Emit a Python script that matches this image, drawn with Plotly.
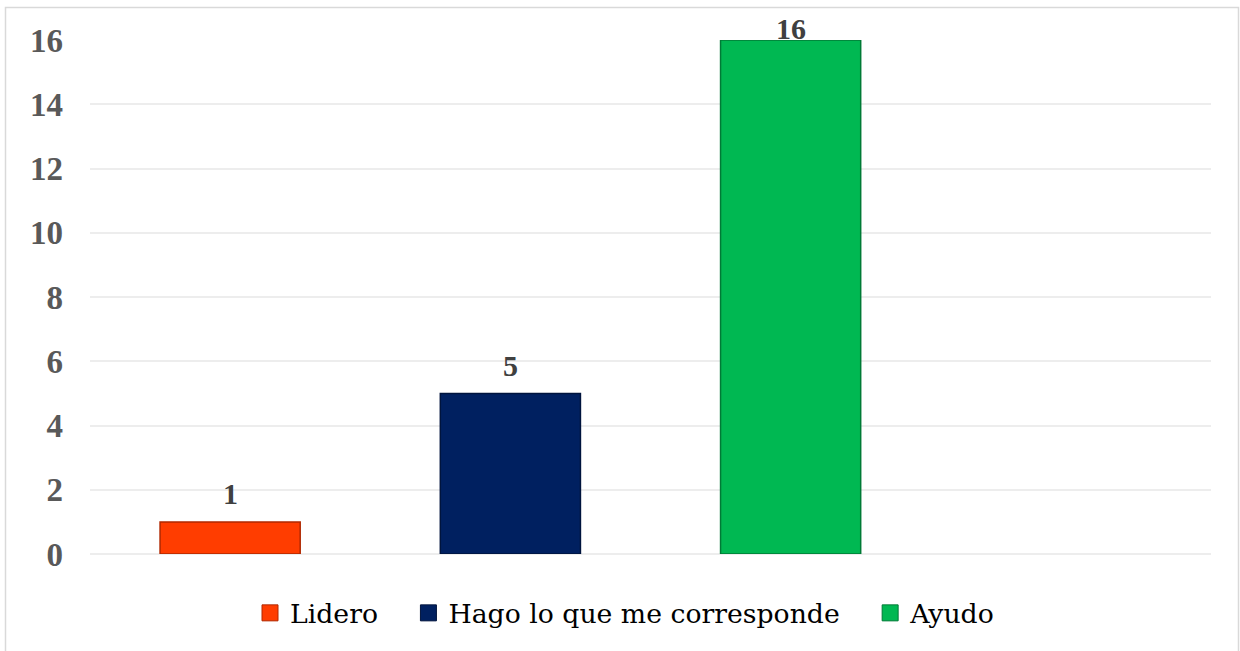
import plotly.graph_objects as go

categories = ["Lidero", "Hago lo que me corresponde", "Ayudo"]
values = [1, 5, 16]
colors = ["#FF3D00", "#002060", "#00B852"]
edge_colors = ["#B02800", "#00143D", "#007A36"]
positions = [0, 1, 2]
y_ticks = [0, 2, 4, 6, 8, 10, 12, 14, 16]

W, H = 1240, 651
ML, MR, MT, MB = 90, 29, 40, 97
YMAX = 16
pw = W - ML - MR
ph = H - MT - MB

fig = go.Figure()
for cat, v, c, ec, p in zip(categories, values, colors, edge_colors, positions):
    fig.add_trace(go.Bar(
        x=[p], y=[v], name=cat, width=0.5, showlegend=False,
        marker=dict(color=c, line=dict(color=ec, width=1.5)),
        hoverinfo="skip",
    ))
# legend entries with larger square symbols
PAD = "\u00a0\u00a0\u00a0"
for cat, c, ec in zip(categories, colors, edge_colors):
    fig.add_trace(go.Scatter(
        x=[None], y=[None], mode="markers", name=cat + PAD,
        marker=dict(symbol="square", size=16, color=c, line=dict(color=ec, width=1)),
        showlegend=True, hoverinfo="skip",
    ))

ppu = ph / YMAX
for v, p in zip(values, positions):
    top_px = MT + (YMAX - v) * ppu
    shift = min(28, top_px - 28)
    fig.add_annotation(
        x=p, y=v, text=f"<b>{v}</b>", showarrow=False,
        yshift=shift, yanchor="middle",
        font=dict(family="Liberation Serif", size=30, color="#404040"),
    )

fig.add_shape(
    type="rect", xref="paper", yref="paper",
    x0=(5.5 - ML) / pw, x1=(1238.5 - ML) / pw,
    y0=(H - MB - 700) / ph, y1=(H - MB - 7.5) / ph,
    line=dict(color="#D9D9D9", width=1.5), fillcolor="rgba(0,0,0,0)", layer="below",
)

fig.update_layout(
    width=W, height=H,
    margin=dict(l=ML, r=MR, t=MT, b=MB),
    paper_bgcolor="white", plot_bgcolor="white",
    barmode="overlay",
    showlegend=True,
    legend=dict(
        orientation="h", x=(250 - ML) / pw, xanchor="left",
        y=(H - MB - 613) / ph, yanchor="middle",
        font=dict(family="DejaVu Serif", size=26.7, color="#000000"),
        itemclick=False, itemdoubleclick=False,
        bgcolor="rgba(0,0,0,0)",
    ),
    xaxis=dict(range=[-0.5, 3.5], showticklabels=False, showgrid=False,
               zeroline=False, showline=False, fixedrange=True),
    yaxis=dict(range=[0, YMAX], tickvals=y_ticks,
               ticktext=[f"<b>{t}</b>" for t in y_ticks],
               tickfont=dict(family="Liberation Serif", size=33, color="#595959"),
               showgrid=True, gridcolor="#EDEDED", gridwidth=1.5,
               zeroline=True, zerolinecolor="#EDEDED", zerolinewidth=1.5,
               showline=False, ticks="", ticklabelstandoff=26, fixedrange=True),
)

fig.write_html("out.html", config={"displayModeBar": False},
               post_script="document.body.style.margin='0';")
